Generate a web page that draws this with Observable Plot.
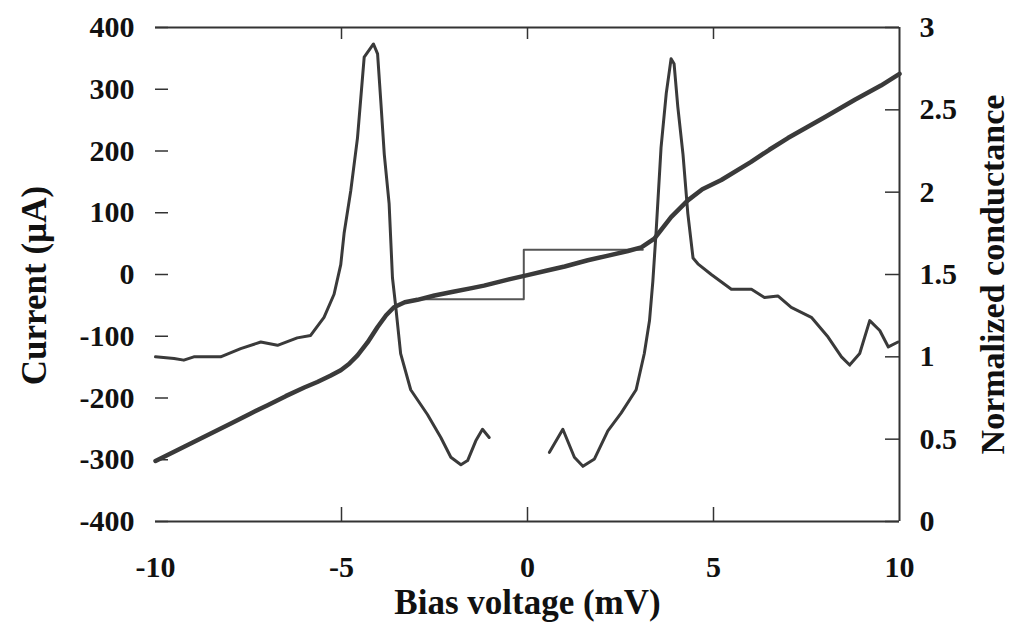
<!DOCTYPE html>
<html><head><meta charset="utf-8">
<script src="https://cdn.jsdelivr.net/npm/d3@7"></script>
<script src="https://cdn.jsdelivr.net/npm/@observablehq/plot@0.6"></script>
<style>html,body{margin:0;padding:0;background:#fff} svg{display:block}</style>
</head><body><div id="chart"></div>
<script>
// ---- data ----
const xTicks = [-10, -5, 0, 5, 10];
const xInnerTicks = [-5, 0, 5];
const leftTicks = [-400, -300, -200, -100, 0, 100, 200, 300, 400];
const rightTicks = [0, 0.5, 1, 1.5, 2, 2.5, 3];

// I-V curve (Bias voltage mV, Current µA)
const ivV = [-10, -9, -8.5, -8, -7.44, -7, -6.5, -6, -5.65, -5.3, -5.02, -4.8, -4.57, -4.3, -4.03, -3.8, -3.59, -3.3, -2.96, -2.5, -2, -1.5, -1.17, -0.5, 0, 0.5, 1, 1.62, 2.2, 2.7, 3.06, 3.41, 3.86, 4.31, 4.7, 5.21, 6, 6.5, 7, 7.5, 8, 8.8, 9.5, 10];
const ivI = [-302, -272, -257, -242, -225, -212, -197, -183, -174, -164, -155, -145, -131, -110, -85, -66, -53, -45, -41, -34, -28, -22, -18, -8, -1, 6, 13, 23, 31, 38, 44, 58, 93, 120, 138, 153, 182, 202, 221, 238, 255, 283, 306, 325];

// Step (thin line)
const stepV = [-3.0, -0.1, -0.1, 3.1];
const stepI = [-40, -40, 40, 40];

// Normalized conductance, negative branch
const gLeftV = [-10, -9.5, -9.24, -8.97, -8.25, -7.71, -7.17, -6.72, -6.19, -5.83, -5.47, -5.2, -5.02, -4.93, -4.75, -4.57, -4.39, -4.14, -4.03, -3.94, -3.85, -3.72, -3.63, -3.54, -3.41, -3.14, -2.69, -2.33, -2.06, -1.79, -1.61, -1.39, -1.21, -1.03];
const gLeftG = [1.0, 0.99, 0.98, 1.0, 1.0, 1.05, 1.09, 1.07, 1.115, 1.13, 1.24, 1.38, 1.56, 1.75, 2.01, 2.33, 2.82, 2.90, 2.84, 2.54, 2.23, 1.93, 1.48, 1.30, 1.02, 0.80, 0.65, 0.51, 0.39, 0.345, 0.37, 0.49, 0.56, 0.51];
// Normalized conductance, positive branch
const gRightV = [0.59, 0.95, 1.26, 1.49, 1.80, 2.16, 2.52, 2.92, 3.14, 3.28, 3.37, 3.46, 3.59, 3.73, 3.86, 3.94, 4.04, 4.18, 4.31, 4.45, 4.58, 4.94, 5.48, 6.02, 6.37, 6.73, 7.09, 7.63, 8.08, 8.44, 8.66, 8.93, 9.20, 9.47, 9.70, 9.96];
const gRightG = [0.42, 0.56, 0.39, 0.335, 0.38, 0.55, 0.66, 0.80, 1.02, 1.22, 1.46, 1.77, 2.27, 2.60, 2.81, 2.78, 2.52, 2.23, 1.87, 1.60, 1.565, 1.50, 1.41, 1.41, 1.36, 1.37, 1.30, 1.24, 1.12, 1.0, 0.95, 1.02, 1.22, 1.16, 1.06, 1.09];

// ---- layout ----
const W = 1013, H = 625, ML = 155, MR = 114, MT = 27, MB = 104;
const innerW = W - ML - MR, innerH = H - MT - MB;
const yDomain = [-400, 400], gDomain = [0, 3];
const gToI = g => yDomain[0] + (g - gDomain[0]) * (yDomain[1] - yDomain[0]) / (gDomain[1] - gDomain[0]);
const zip = (xs, ys) => xs.map((x, i) => ({x, y: ys[i]}));
const ink = "#3a3a3a";
const font = "'Liberation Serif','Times New Roman',serif";

const chart = Plot.plot({
  width: W, height: H,
  marginLeft: ML, marginRight: MR, marginTop: MT, marginBottom: MB,
  style: {fontFamily: font, fontWeight: "bold", background: "#fff", color: "#111", overflow: "visible"},
  x: {domain: [-10, 10], label: null},
  y: {domain: yDomain, label: null},
  marks: [
    // frame (top, bottom, right)
    Plot.ruleY([yDomain[1]], {stroke: "#333", strokeWidth: 2}),
    Plot.ruleY([yDomain[0]], {stroke: "#333", strokeWidth: 2}),
    Plot.ruleX([10], {stroke: "#333", strokeWidth: 2}),
    // inward ticks
    Plot.tickX(xInnerTicks, {x: d => d, insetTop: innerH - 14, stroke: "#333", strokeWidth: 1.5}),
    Plot.tickX(xInnerTicks, {x: d => d, insetBottom: innerH - 12, stroke: "#333", strokeWidth: 1.5}),
    Plot.tickY(leftTicks, {y: d => d, insetRight: innerW - 13, stroke: "#333", strokeWidth: 1.5}),
    Plot.tickY(rightTicks, {y: d => gToI(d), insetLeft: innerW - 14, stroke: "#333", strokeWidth: 1.5}),
    // tick labels
    Plot.axisX(xTicks, {tickSize: 0, tickPadding: 34, tickFormat: d => String(d), fontSize: 30, label: null}),
    Plot.axisY(leftTicks, {tickSize: 0, tickPadding: 21, tickFormat: d => String(d), fontSize: 30, label: null}),
    Plot.text(rightTicks, {y: d => gToI(d), frameAnchor: "right", text: d => String(d), textAnchor: "start", dx: 20, fontSize: 30}),
    // axis titles
    Plot.text(["Bias voltage (mV)"], {frameAnchor: "bottom", text: d => d, textAnchor: "middle", lineAnchor: "bottom", dy: 92, fontSize: 35}),
    Plot.text(["Current (µA)"], {frameAnchor: "left", text: d => d, textAnchor: "middle", lineAnchor: "middle", rotate: -90, dx: -121, dy: 11, fontSize: 35}),
    Plot.text(["Normalized conductance"], {frameAnchor: "right", text: d => d, textAnchor: "middle", lineAnchor: "middle", rotate: -90, dx: 94, fontSize: 34}),
    // data
    Plot.line(zip(stepV, stepI), {x: "x", y: "y", stroke: "#555", strokeWidth: 2, curve: "linear"}),
    Plot.line(zip(gLeftV, gLeftG), {x: "x", y: d => gToI(d.y), stroke: ink, strokeWidth: 3, curve: "linear"}),
    Plot.line(zip(gRightV, gRightG), {x: "x", y: d => gToI(d.y), stroke: ink, strokeWidth: 3, curve: "linear"}),
    Plot.line(zip(ivV, ivI), {x: "x", y: "y", stroke: ink, strokeWidth: 4.5, curve: "linear"})
  ]
});
document.getElementById("chart").appendChild(chart);
</script>
</body></html>
